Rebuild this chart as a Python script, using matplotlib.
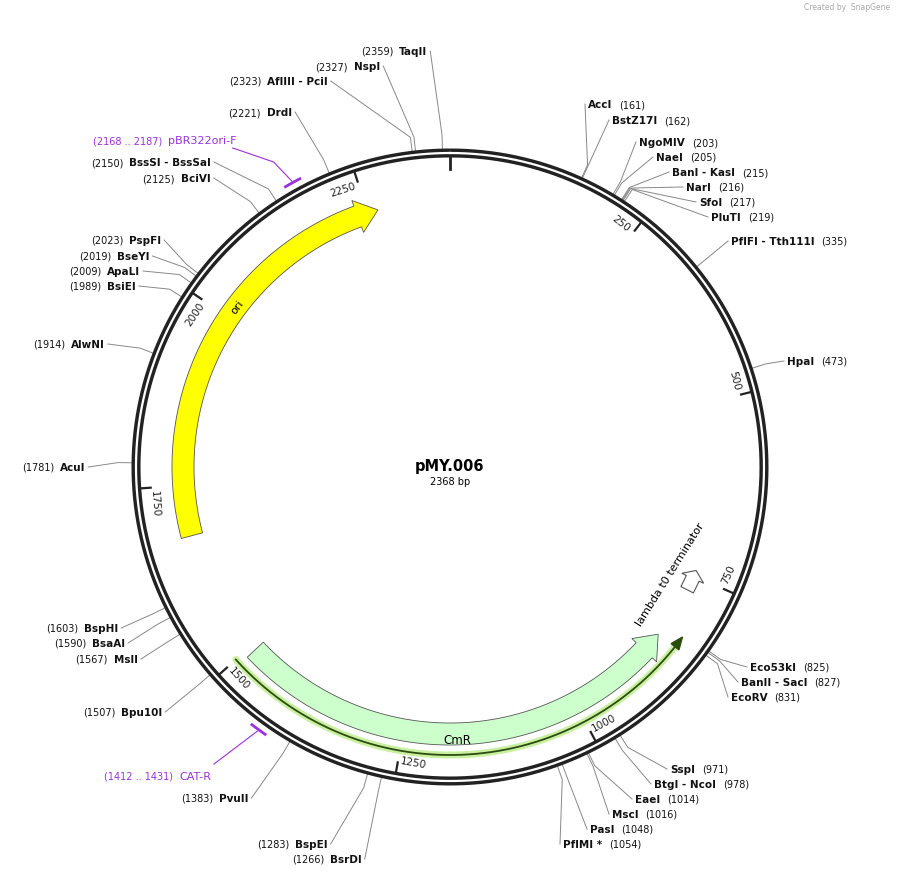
import numpy as np
import matplotlib
matplotlib.use("Agg")
import matplotlib.pyplot as plt
from matplotlib.patches import Polygon

TOTAL = 2368
NAME = "pMY.006"

# enzymes: name, position, side, label x (name start), label y
enz_names = ["AccI","BstZ17I","NgoMIV","NaeI","BanI - KasI","NarI","SfoI","PluTI",
             "PflFI - Tth111I","HpaI","Eco53kI","BanII - SacI","EcoRV","SspI","BtgI - NcoI",
             "EaeI","MscI","PasI","PflMI *",
             "TaqII","NspI","AflIII - PciI","DrdI","BssSI - BssSaI","BciVI","PspFI","BseYI",
             "ApaLI","BsiEI","AlwNI","AcuI","BspHI","BsaAI","MslI","Bpu10I","PvuII","BspEI","BsrDI"]
enz_pos = [161,162,203,205,215,216,217,219,335,473,825,827,831,971,978,1014,1016,1048,1054,
           2359,2327,2323,2221,2150,2125,2023,2019,2009,1989,1914,1781,1603,1590,1567,1507,1383,1283,1266]
enz_side = ["R"]*19 + ["L"]*19
enz_lx = [588,612,639,656,672,686,699,711,731,787,750,741,731,670,654,635,612,590,563,
          399,354,267,267,129,181,129,117,107,107,71,60,84,92,114,121,219,295,330]
enz_ly = [105,121,143,158,173,188,203,218,242,362,668,683,698,770,785,800,815,830,845,
          52,67,82,113,163,179,241,257,272,287,345,468,629,644,660,713,799,845,860]

tick_vals = [250,500,750,1000,1250,1500,1750,2000,2250]

# features
feat_names = ["ori","CmR","lambda t0 terminator"]
feat_start = [1678,847,742]
feat_end = [2265,1492,772]
feat_dir = [1,-1,-1]
feat_color = ["#ffff00","#ccffcc","#ffffff"]

primer_names = ["pBR322ori-F","CAT-R"]
primer_start = [2168,1412]
primer_end = [2187,1431]
primer_lx = [93,104]
primer_ly = [141,777]

CX, CY, R = 450, 468, 314

fig = plt.figure(figsize=(8.97,8.78), dpi=100)
ax = fig.add_axes([0,0,1,1])
ax.set_xlim(0,897); ax.set_ylim(878,0); ax.axis("off")

def pt(bp, r):
    t = 2*np.pi*bp/TOTAL
    return CX + r*np.sin(t), CY - r*np.cos(t)

def arc(b0, b1, r, n=200):
    bs = np.linspace(b0, b1, n)
    return [pt(b, r) for b in bs]

# ring
th = np.linspace(0, 2*np.pi, 720)
ax.plot(CX+R*np.sin(th), CY-R*np.cos(th), color="#222", lw=6.5, solid_capstyle="butt", zorder=3)
ax.plot(CX+R*np.sin(th), CY-R*np.cos(th), color="white", lw=1.6, zorder=4)
x0,y0 = pt(0,311); x1,y1 = pt(0,298)
ax.plot([x0,x1],[y0,y1],color="#222",lw=2)

# ticks
for v in tick_vals:
    a0 = pt(v, 310); a1 = pt(v, 300)
    ax.plot([a0[0],a1[0]],[a0[1],a1[1]],color="#222",lw=1.6)
    deg = 360*v/TOTAL
    rot = -deg
    if 90 < deg < 270:
        rot += 180
    lx, ly = pt(v - 20, 298)
    ax.text(lx, ly, str(v), rotation=rot, ha="center", va="center", fontsize=7.5, color="#222", rotation_mode="anchor")

# features
def arrow_poly(s, e, r1, r2, d, head=30, ext=6):
    rm = (r1+r2)/2
    if d == 1:
        hb = e - head
        outer = arc(s, hb, r2); inner = arc(hb, s, r1)
        pts = outer + [pt(hb, r2+ext), pt(e, rm), pt(hb, r1-ext)] + inner
    else:
        hb = s + head
        outer = arc(e, hb, r2); inner = arc(hb, e, r1)
        pts = outer + [pt(hb, r2+ext), pt(s, rm), pt(hb, r1-ext)] + inner
    return pts

for i in range(2):
    poly = Polygon(arrow_poly(feat_start[i], feat_end[i], 256, 278, feat_dir[i]),
                   closed=True, fc=feat_color[i], ec="#555", lw=0.6, zorder=5)
    ax.add_patch(poly)
poly = Polygon(arrow_poly(feat_start[2], feat_end[2], 260, 274, -1, head=12, ext=5),
               closed=True, fc="white", ec="#555", lw=0.8, zorder=5)
ax.add_patch(poly)

# labels
ox, oy = pt(2020, 267)
ax.text(ox, oy, "ori", rotation=360-360*2020/TOTAL, fontsize=8, ha="center", va="center", zorder=6)
ax.text(457, 741, "CmR", fontsize=8.5, ha="center", va="center", zorder=6)
ax.text(643, 628, "lambda t0 terminator", rotation=58, fontsize=8,
        ha="left", va="bottom", rotation_mode="anchor", zorder=6)

# ORF line
orf = np.array(arc(842, 1500, 288))
ax.plot(orf[:,0], orf[:,1], color="#c8f0a0", lw=5, solid_capstyle="round", zorder=5)
ax.plot(orf[:,0], orf[:,1], color="#2d4d10", lw=1.3, zorder=6)
hp = [pt(830, 288), pt(846, 293), pt(846, 283)]
ax.add_patch(Polygon(hp, closed=True, fc="#2d4d10", ec="#2d4d10", zorder=6))

# center
ax.text(450, 467, NAME, fontsize=10.5, fontweight="bold", ha="center", va="center")
ax.text(450, 482, f"{TOTAL} bp", fontsize=7, ha="center", va="center")

fig.canvas.draw()
rend = fig.canvas.get_renderer()
inv = ax.transData.inverted()

def right_x(t):
    bb = t.get_window_extent(rend)
    return inv.transform((bb.x1, bb.y0))[0]

for n, p, s, lx, ly in zip(enz_names, enz_pos, enz_side, enz_lx, enz_ly):
    t = ax.text(lx, ly, n, fontsize=7.5, fontweight="bold", ha="left", va="center", color="#111")
    xe = right_x(t)
    if s == "R":
        ax.text(xe+7, ly, f"({p})", fontsize=7, ha="left", va="center", color="#111")
        end = (lx-3, ly)
    else:
        ax.text(lx-6, ly, f"({p})", fontsize=7, ha="right", va="center", color="#111")
        end = (xe+3, ly)
    a = pt(p, 318); k = pt(p, 332)
    ax.plot([a[0], k[0], end[0]], [a[1], k[1], end[1]], color="#888", lw=0.7)

for n, s, e, lx, ly in zip(primer_names, primer_start, primer_end, primer_lx, primer_ly):
    pa = np.array(arc(s, e, 325, 20))
    ax.plot(pa[:,0], pa[:,1], color="#9b30e0", lw=2)
    t = ax.text(lx, ly, f"({s} .. {e})", fontsize=7, ha="left", va="center", color="#9b30e0")
    xe = right_x(t)
    t2 = ax.text(xe+6, ly, n, fontsize=8, ha="left", va="center", color="#9b30e0")
    xe2 = right_x(t2)
    m = pt((s+e)/2, 327)
    ax.plot([m[0], xe2+3 if n=="CAT-R" else m[0]-18, xe2-4 if n!="CAT-R" else xe2+3],
            [m[1], (ly-12) if n=="CAT-R" else ly+22, ly+8 if n!="CAT-R" else ly-12],
            color="#9b30e0", lw=0.8)

ax.text(890, 8, "Created by  SnapGene", fontsize=5.5, ha="right", va="center", color="#aaa")

fig.savefig("out.png", dpi=100)
